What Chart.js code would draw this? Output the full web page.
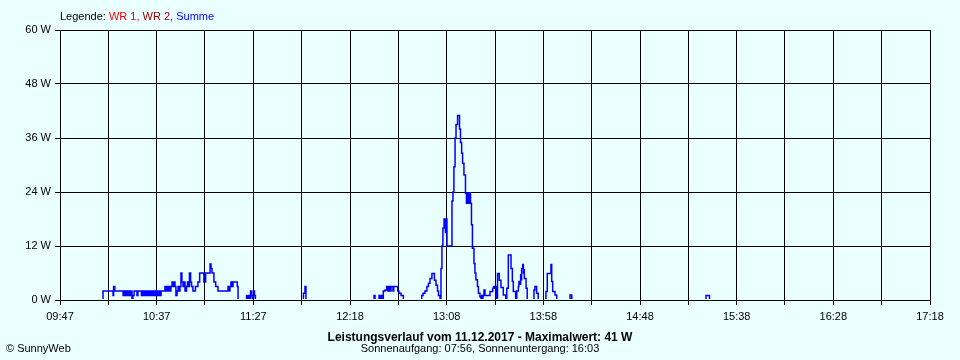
<!DOCTYPE html>
<html><head><meta charset="utf-8">
<script src="https://cdn.jsdelivr.net/npm/chart.js@4/dist/chart.umd.min.js"></script>
<style>
html,body{margin:0;padding:0;background:#EAFFFF;}
#wrap{position:relative;width:960px;height:360px;font-family:"Liberation Sans",Arial,sans-serif;color:#000;}
canvas{position:absolute;left:0;top:0;}
.t{position:absolute;white-space:nowrap;font-size:11px;line-height:13px;}
</style></head><body>
<div id="wrap">
<canvas id="c" width="960" height="360"></canvas>
<div class="t" style="left:60px;top:10px;">Legende: <span style="color:#FF0000">WR 1,</span> <span style="color:#A00000">WR 2,</span> <span style="color:#0000FF">Summe</span></div>
<div class="t" style="left:0;width:960px;text-align:center;top:330px;font-weight:bold;font-size:12px;line-height:14px;">Leistungsverlauf vom 11.12.2017 - Maximalwert: 41 W</div>
<div class="t" style="left:0;width:960px;text-align:center;top:342px;">Sonnenaufgang: 07:56, Sonnenuntergang: 16:03</div>
<div class="t" style="left:6px;top:342px;">© SunnyWeb</div>
</div>
<script>
// time axis in minutes since midnight
const xLabels = ["09:47","10:37","11:27","12:18","13:08","13:58","14:48","15:38","16:28","17:18"];
const yTickValues = [0, 12, 24, 36, 48, 60];
const timeMin = 587, timeMax = 1038;

// Summe (W), value holds until next time stamp
const times = [587.0,609.3,614.5,614.8,615.4,619.7,620.2,621.0,621.5,622.0,622.5,623.3,623.8,624.3,624.8,625.4,626.9,627.4,
629.2,629.8,630.3,630.8,631.3,631.8,632.4,632.9,633.4,633.9,634.4,635.0,635.5,636.0,636.5,637.0,637.5,638.3,638.8,639.4,
641.4,642.0,642.5,643.0,643.5,644.0,644.5,645.1,645.6,646.1,646.6,647.1,647.7,
648.2,648.7,649.2,649.7,650.2,650.8,651.3,651.8,652.6,653.1,653.6,654.1,654.7,655.2,655.9,657.2,658.5,659.4,661.6,662.5,664.8,665.3,665.8,666.8,667.7,668.9,
674.1,674.6,675.1,675.6,676.2,676.7,678.9,679.3,
683.7,684.2,684.7,685.2,685.8,686.3,686.8,687.3,687.8,688.3,
713.2,714.0,714.5,
749.8,750.3,752.4,752.7,753.4,753.8,754.6,755.5,756.4,757.0,757.6,758.1,758.6,759.6,760.0,762.1,762.7,763.8,765.0,
774.5,775.2,776.2,777.2,778.0,778.8,779.8,781.1,781.9,782.7,783.2,784.0,784.5,785.0,785.5,786.1,786.8,787.1,787.6,
790.2,790.7,791.2,791.8,792.3,793.1,794.1,794.6,795.2,795.7,796.4,797.2,797.7,798.2,798.8,799.3,799.8,800.3,800.8,801.6,802.1,802.6,803.4,803.9,804.7,805.2,
805.6,805.9,806.3,806.8,807.3,809.9,811.3,811.8,812.3,812.8,813.2,813.8,814.7,815.6,816.8,818.1,818.6,819.4,820.8,821.5,822.0,823.2,
823.8,824.6,824.9,825.5,825.8,826.1,826.3,826.9,827.2,827.4,827.7,828.6,829.2,832.7,833.2,834.1,834.9,
838.9,839.6,841.5,841.9,842.4,843.6,844.5,851.4,852.3,921.9,923.7,1038];
const watts = [0,2,1,3,2,1,2,1,2,1,2,1,2,0,1,2,1,2,
1,2,1,2,1,2,1,2,1,2,1,2,1,2,1,2,1,2,1,2,
3,2,3,2,3,2,3,4,3,4,3,1,2,
3,2,3,6,4,3,4,2,3,4,3,6,4,3,2,3,4,6,4,6,8,7,6,4,3,2,
3,2,3,4,3,4,3,0,
1,0,1,0,2,1,0,2,1,0,
1.5,3,0,
1,0,1,0,1,0,2,2.2,3,2,3,2,3,2,3,2,1.5,1,0,
1,1.5,2,3,3.7,4.8,5.9,4.4,3.3,2,1,0.3,7,12,16,18,15,18,12,
22,24,29.6,36,39,41,38,35,32.6,30.4,27.8,23.7,21.5,23.7,21.5,23.7,21.5,16.7,11.5,8.1,6,4.5,3,1.5,0.7,0,
1,0,1,2.2,1,1.9,2.6,3,2.6,3,0,5.9,4.4,2.8,1.1,0,2.6,10,7,4.1,1.9,0,
2,3,4.1,3.5,5.6,4.5,7,7.9,6,6.7,4.8,2.6,0,2.2,3,1.5,0,
1.9,5.9,7.9,4.1,1.9,1.1,0,1.1,0,1,0,0];

const FONT = {family:'"Liberation Sans", Arial, sans-serif', size:11};
const nDiv = (xLabels.length - 1) * 2;

new Chart(document.getElementById('c'), {
  type: 'line',
  data: {
    datasets: [{
      label: 'Summe',
      data: times.map((t, i) => ({x: t, y: watts[i]})),
      stepped: true,
      borderColor: '#0000FF',
      borderWidth: 1.5,
      borderJoinStyle: 'miter',
      borderCapStyle: 'butt',
      pointRadius: 0,
      fill: false,
      clip: {left: 0, top: 2, right: 0, bottom: -1}
    }]
  },
  options: {
    responsive: false,
    animation: false,
    devicePixelRatio: 1,
    layout: {padding: {top: 30, right: 30, left: 0, bottom: 0}},
    plugins: {legend: {display: false}, tooltip: {enabled: false}},
    scales: {
      x: {
        type: 'linear', min: timeMin, max: timeMax, z: 1,
        afterBuildTicks: s => {
          const arr = [];
          for (let i = 0; i <= nDiv; i++) arr.push({value: timeMin + (timeMax - timeMin) * i / nDiv});
          s.ticks = arr;
        },
        afterFit: s => { s.height = 60; },
        ticks: {
          autoSkip: false, maxRotation: 0, minRotation: 0, color: '#000', font: FONT, padding: 5,
          callback: (v, i) => (i % 2 === 0 ? xLabels[i / 2] : '')
        },
        grid: {color: '#000', lineWidth: 1, tickLength: 5, tickColor: '#000'},
        border: {color: '#000', width: 1}
      },
      y: {
        min: 0, max: 60,
        afterBuildTicks: s => { s.ticks = yTickValues.map(v => ({value: v})); },
        afterFit: s => { s.width = 60; },
        ticks: {color: '#000', font: FONT, padding: 4, callback: v => v + ' W'},
        grid: {color: '#000', lineWidth: 1, tickLength: 5, tickColor: '#000'},
        border: {color: '#000', width: 1}
      }
    }
  }
});
</script>
</body></html>
